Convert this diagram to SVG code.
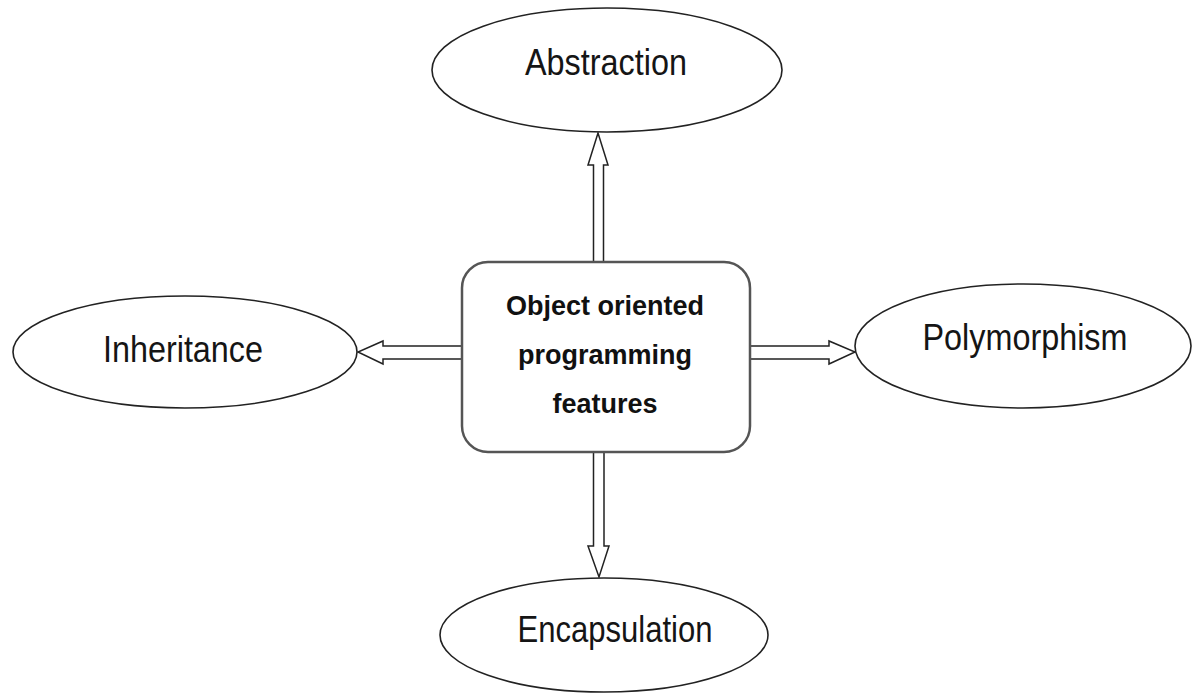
<svg xmlns="http://www.w3.org/2000/svg" width="1196" height="694" viewBox="0 0 1196 694">
<style>
.ell{fill:#fff;stroke:#222;stroke-width:1.6}
.lbl{font-family:"Liberation Sans",Arial,sans-serif;font-size:36px;fill:#151515;text-anchor:middle}
.box{fill:#fff;stroke:#555;stroke-width:2.5}
.btxt{font-family:"Liberation Sans",Arial,sans-serif;font-size:27px;font-weight:bold;fill:#111;text-anchor:middle}
.arr{fill:#fff;stroke:#222;stroke-width:1.5;stroke-linejoin:miter}
</style>
<rect width="1196" height="694" fill="#fff"/>
<g id="connectors">
<polygon class="arr" points="593.5,262 593.5,165 588,165 598,133 608,165 603.5,165 603.5,262"/>
<polygon class="arr" points="593.5,452 593.5,546 588,546 599,577 609,546 604,546 604,452"/>
<polygon class="arr" points="462,346 383,346 383,341 358,352 383,364 383,359 462,359"/>
<polygon class="arr" points="748,346 829,346 829,341 855,352 829,364 829,359 748,359"/>
</g>
<g id="abstraction">
<ellipse class="ell" cx="607" cy="70" rx="175" ry="62"/>
<text class="lbl" x="606" y="75" textLength="162" lengthAdjust="spacingAndGlyphs">Abstraction</text>
</g>
<g id="inheritance">
<ellipse class="ell" cx="185" cy="352" rx="172" ry="56"/>
<text class="lbl" x="183" y="362" textLength="160" lengthAdjust="spacingAndGlyphs">Inheritance</text>
</g>
<g id="polymorphism">
<ellipse class="ell" cx="1023" cy="346" rx="168" ry="62"/>
<text class="lbl" x="1025" y="350" textLength="205" lengthAdjust="spacingAndGlyphs">Polymorphism</text>
</g>
<g id="encapsulation">
<ellipse class="ell" cx="604" cy="635" rx="164" ry="57"/>
<text class="lbl" x="615" y="642" textLength="195" lengthAdjust="spacingAndGlyphs">Encapsulation</text>
</g>
<g id="oop-features">
<rect class="box" x="462" y="262" width="288" height="190" rx="26" ry="26"/>
<text class="btxt" x="605" y="315">Object oriented</text>
<text class="btxt" x="605" y="364">programming</text>
<text class="btxt" x="605" y="413">features</text>
</g>
</svg>
